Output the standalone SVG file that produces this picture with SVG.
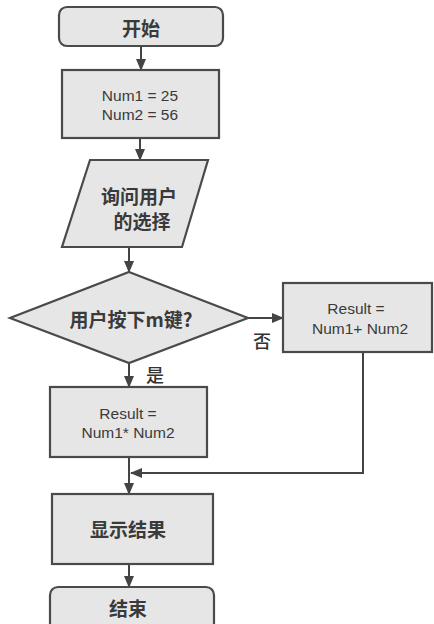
<svg xmlns="http://www.w3.org/2000/svg" width="434" height="624" viewBox="0 0 434 624">
<defs>
<marker id="ah" markerWidth="12" markerHeight="10" refX="11" refY="5" orient="auto" markerUnits="userSpaceOnUse">
<path d="M0,0 L12,5 L0,10 Z" fill="#444"/>
</marker>
<style>
.shape{fill:#e6e6e6;stroke:#4a4a4a;stroke-width:2.2}
.cn{font-family:"Noto Sans CJK SC","Noto Sans",sans-serif;font-size:19px;font-weight:bold;fill:#3a3a3a;text-anchor:middle;dominant-baseline:central}
.lbl{font-family:"Noto Sans CJK SC","Noto Sans",sans-serif;font-size:18px;font-weight:500;fill:#333;text-anchor:middle;dominant-baseline:central}
.en{font-family:"Liberation Sans",Arial,sans-serif;font-size:15.5px;fill:#3a3a3a;text-anchor:middle;dominant-baseline:central}
.conn{fill:none;stroke:#444;stroke-width:2}
</style>
</defs>
<rect width="434" height="624" fill="#ffffff"/>
<g id="connectors">
<line class="conn" x1="141" y1="46" x2="141" y2="70" marker-end="url(#ah)"/>
<line class="conn" x1="140" y1="138" x2="140" y2="160" marker-end="url(#ah)"/>
<line class="conn" x1="129" y1="247" x2="129" y2="272" marker-end="url(#ah)"/>
<line class="conn" x1="248" y1="318" x2="283" y2="318" marker-end="url(#ah)"/>
<line class="conn" x1="129" y1="363" x2="129" y2="387" marker-end="url(#ah)"/>
<line class="conn" x1="129" y1="457" x2="129" y2="494" marker-end="url(#ah)"/>
<polyline class="conn" points="363,352 363,473 131,473" marker-end="url(#ah)"/>
<line class="conn" x1="129" y1="564" x2="129" y2="587" marker-end="url(#ah)"/>
<text class="lbl" x="262" y="340">否</text>
<text class="lbl" x="155" y="374">是</text>
</g>
<g id="start">
<rect class="shape" x="59" y="7" width="164" height="39" rx="8"/>
<text class="cn" x="141" y="27">开始</text>
</g>
<g id="init">
<rect class="shape" x="62" y="70" width="157" height="68"/>
<text class="en" x="140" y="95">Num1 = 25</text>
<text class="en" x="140" y="114">Num2 = 56</text>
</g>
<g id="ask">
<polygon class="shape" points="90,160 208,160 182,247 62,247"/>
<text class="cn" x="139" y="195">询问用户</text>
<text class="cn" x="142" y="220">的选择</text>
</g>
<g id="decision">
<polygon class="shape" points="129,272 248,318 129,363 10,318"/>
<text class="cn" x="131" y="318">用户按下m键?</text>
</g>
<g id="add">
<rect class="shape" x="283" y="283" width="149" height="69"/>
<text class="en" x="356" y="308">Result =</text>
<text class="en" x="360" y="328">Num1+ Num2</text>
</g>
<g id="mul">
<rect class="shape" x="50" y="387" width="157" height="70"/>
<text class="en" x="128" y="413">Result =</text>
<text class="en" x="128" y="432">Num1* Num2</text>
</g>
<g id="display">
<rect class="shape" x="52" y="494" width="161" height="70"/>
<text class="cn" x="128" y="528">显示结果</text>
</g>
<g id="end">
<rect class="shape" x="50" y="587" width="164" height="45" rx="8"/>
<text class="cn" x="128" y="607">结束</text>
</g>
</svg>
